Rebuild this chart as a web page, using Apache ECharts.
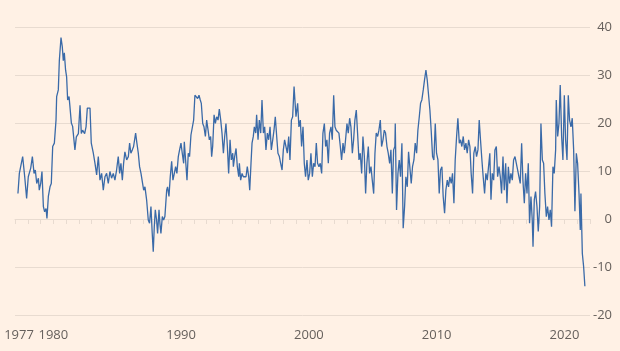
<!DOCTYPE html>
<html>
<head>
<meta charset="utf-8">
<script src="https://cdn.jsdelivr.net/npm/echarts@6/dist/echarts.min.js"></script>
<style>
  html, body { margin: 0; padding: 0; background: #fff1e5; }
  #chart { width: 620px; height: 351px; }
</style>
</head>
<body>
<div id="chart"></div>
<script>
// decimal years of each reading
const years = [
  1977.23, 1977.34, 1977.44, 1977.60, 1977.76, 1977.91, 1978.04, 1978.23, 1978.36, 1978.49,
  1978.59, 1978.70, 1978.83, 1978.90, 1979.01, 1979.11, 1979.22, 1979.32, 1979.43, 1979.50,
  1979.61, 1979.74, 1979.84, 1979.95, 1980.08, 1980.21, 1980.26, 1980.39, 1980.47, 1980.60,
  1980.70, 1980.78, 1980.86, 1980.96, 1981.04, 1981.12, 1981.23, 1981.30, 1981.41, 1981.51,
  1981.59, 1981.69, 1981.80, 1981.96, 1982.09, 1982.19, 1982.29, 1982.45, 1982.56, 1982.66,
  1982.76, 1982.87, 1982.97, 1983.13, 1983.26, 1983.39, 1983.52, 1983.65, 1983.78, 1983.91,
  1984.04, 1984.17, 1984.30, 1984.43, 1984.56, 1984.69, 1984.82, 1984.95, 1985.08, 1985.19,
  1985.29, 1985.40, 1985.50, 1985.60, 1985.74, 1985.87, 1985.97, 1986.07, 1986.18, 1986.28,
  1986.44, 1986.54, 1986.65, 1986.75, 1986.86, 1986.96, 1987.07, 1987.17, 1987.30, 1987.43,
  1987.53, 1987.64, 1987.74, 1987.82, 1987.90, 1987.98, 1988.08, 1988.16, 1988.27, 1988.34,
  1988.42, 1988.53, 1988.63, 1988.73, 1988.87, 1988.94, 1989.05, 1989.15, 1989.26, 1989.36,
  1989.47, 1989.57, 1989.67, 1989.78, 1989.88, 1989.99, 1990.09, 1990.20, 1990.25, 1990.35,
  1990.46, 1990.56, 1990.66, 1990.77, 1990.87, 1990.98, 1991.08, 1991.19, 1991.29, 1991.40,
  1991.50, 1991.58, 1991.69, 1991.79, 1991.90, 1992.00, 1992.11, 1992.21, 1992.31, 1992.39,
  1992.47, 1992.58, 1992.68, 1992.78, 1992.89, 1992.99, 1993.10, 1993.20, 1993.31, 1993.41,
  1993.51, 1993.62, 1993.72, 1993.83, 1993.93, 1994.04, 1994.09, 1994.19, 1994.30, 1994.40,
  1994.51, 1994.56, 1994.66, 1994.77, 1994.87, 1994.97, 1995.08, 1995.18, 1995.29, 1995.37,
  1995.47, 1995.55, 1995.65, 1995.73, 1995.84, 1995.91, 1996.02, 1996.12, 1996.23, 1996.33,
  1996.44, 1996.54, 1996.64, 1996.75, 1996.85, 1996.96, 1997.06, 1997.17, 1997.27, 1997.37,
  1997.48, 1997.58, 1997.69, 1997.79, 1997.90, 1998.00, 1998.10, 1998.21, 1998.31, 1998.42,
  1998.52, 1998.63, 1998.73, 1998.84, 1998.99, 1999.12, 1999.22, 1999.33, 1999.43, 1999.54,
  1999.64, 1999.74, 1999.85, 1999.95, 2000.06, 2000.16, 2000.27, 2000.37, 2000.48, 2000.58,
  2000.68, 2000.79, 2000.89, 2001.00, 2001.10, 2001.21, 2001.31, 2001.41, 2001.52, 2001.62,
  2001.73, 2001.83, 2001.94, 2002.04, 2002.14, 2002.25, 2002.35, 2002.46, 2002.56, 2002.67,
  2002.77, 2002.87, 2002.98, 2003.08, 2003.19, 2003.29, 2003.40, 2003.50, 2003.60, 2003.71,
  2003.81, 2003.92, 2004.02, 2004.13, 2004.23, 2004.34, 2004.44, 2004.54, 2004.65, 2004.75,
  2004.86, 2004.96, 2005.07, 2005.17, 2005.27, 2005.38, 2005.48, 2005.59, 2005.69, 2005.80,
  2005.90, 2006.00, 2006.11, 2006.21, 2006.32, 2006.42, 2006.53, 2006.63, 2006.73, 2006.76,
  2006.86, 2006.97, 2007.07, 2007.17, 2007.28, 2007.38, 2007.49, 2007.59, 2007.70, 2007.80,
  2007.90, 2008.01, 2008.11, 2008.22, 2008.32, 2008.43, 2008.53, 2008.64, 2008.74, 2008.84,
  2008.95, 2009.05, 2009.16, 2009.26, 2009.37, 2009.47, 2009.57, 2009.68, 2009.78, 2009.89,
  2009.99, 2010.10, 2010.20, 2010.30, 2010.41, 2010.51, 2010.62, 2010.72, 2010.83, 2010.93,
  2011.03, 2011.14, 2011.24, 2011.35, 2011.45, 2011.56, 2011.66, 2011.77, 2011.87, 2011.97,
  2012.08, 2012.18, 2012.29, 2012.39, 2012.50, 2012.60, 2012.70, 2012.81, 2012.91, 2013.02,
  2013.12, 2013.23, 2013.33, 2013.43, 2013.54, 2013.64, 2013.75, 2013.85, 2013.96, 2014.06,
  2014.16, 2014.25, 2014.35, 2014.46, 2014.56, 2014.67, 2014.77, 2014.88, 2014.98, 2015.08,
  2015.19, 2015.29, 2015.40, 2015.50, 2015.61, 2015.71, 2015.81, 2015.92, 2016.02, 2016.13,
  2016.23, 2016.34, 2016.44, 2016.54, 2016.65, 2016.75, 2016.86, 2016.96, 2017.07, 2017.17,
  2017.27, 2017.38, 2017.48, 2017.54, 2017.64, 2017.74, 2017.85, 2017.95, 2018.06, 2018.16,
  2018.27, 2018.37, 2018.47, 2018.58, 2018.68, 2018.79, 2018.89, 2018.99, 2019.10, 2019.20,
  2019.31, 2019.36, 2019.47, 2019.57, 2019.67, 2019.78, 2019.88, 2019.99, 2020.09, 2020.20,
  2020.30, 2020.40, 2020.51, 2020.61, 2020.72, 2020.82, 2020.93, 2021.03, 2021.14, 2021.24,
  2021.29, 2021.40, 2021.50, 2021.60
]

// % change
const values = [
  5.3, 9.5, 9.9, 13.0, 8.8, 4.3, 8.8, 10.6, 13.0, 9.5,
  10.2, 7.4, 8.5, 6.0, 7.4, 9.9, 2.6, 1.5, 2.2, 0.1,
  4.7, 6.7, 7.4, 15.1, 15.8, 20.6, 25.5, 26.9, 33.0, 37.8,
  35.9, 33.0, 34.6, 31.0, 29.6, 24.8, 25.5, 23.4, 20.0, 19.3,
  17.1, 14.4, 17.1, 17.8, 23.7, 17.8, 18.5, 17.8, 19.2, 23.1,
  22.7, 23.1, 15.8, 13.7, 11.6, 9.2, 13.0, 8.1, 9.5, 6.0,
  8.8, 9.5, 7.4, 9.9, 8.5, 9.5, 8.1, 10.2, 13.0, 9.5,
  11.6, 8.1, 11.6, 14.0, 12.3, 13.0, 15.8, 13.7, 14.4, 15.1,
  17.9, 15.8, 13.7, 10.9, 9.5, 9.9, 6.0, 6.7, 4.0, -0.2,
  -0.9, 2.6, -3.0, -6.8, -1.6, 1.9, -0.2, -3.0, 1.9, -0.9,
  -3.0, 0.5, -0.2, 0.5, 6.0, 6.7, 4.7, 8.8, 12.0, 8.1,
  9.5, 10.9, 9.5, 13.0, 14.4, 15.8, 13.7, 11.6, 16.1, 12.3,
  8.1, 13.7, 13.0, 17.5, 17.2, 20.6, 25.8, 25.8, 25.1, 25.8,
  24.8, 24.1, 19.9, 19.2, 17.2, 20.6, 18.5, 16.5, 17.2, 13.0,
  15.1, 21.7, 19.9, 21.3, 20.6, 22.9, 20.6, 17.9, 13.7, 17.2,
  19.9, 15.1, 9.5, 16.5, 12.3, 13.7, 10.9, 13.0, 14.7, 10.9,
  8.8, 11.6, 8.1, 9.5, 8.8, 8.8, 8.8, 10.9, 8.8, 6.0,
  11.6, 15.8, 17.2, 19.2, 17.9, 21.7, 16.5, 20.6, 17.9, 24.8,
  17.9, 19.2, 14.4, 17.9, 16.5, 19.2, 14.4, 16.5, 18.5, 21.3,
  17.2, 13.7, 13.0, 11.6, 10.2, 14.4, 16.5, 16.5, 13.7, 17.2,
  12.3, 20.6, 21.3, 27.6, 21.3, 24.1, 19.2, 20.6, 15.1, 19.2,
  11.6, 8.8, 12.3, 8.1, 9.5, 13.7, 8.8, 11.6, 10.9, 15.8,
  11.6, 10.9, 11.6, 9.5, 17.9, 19.9, 15.1, 16.5, 11.6, 17.9,
  19.2, 16.5, 25.8, 19.2, 18.5, 18.9, 17.9, 15.1, 12.3, 15.8,
  13.7, 16.5, 19.9, 17.9, 21.0, 19.2, 13.7, 16.5, 20.6, 22.7,
  17.9, 12.3, 13.7, 9.5, 17.2, 13.0, 5.3, 11.6, 15.1, 9.5,
  10.9, 8.1, 5.3, 13.7, 17.9, 17.2, 18.5, 20.6, 15.1, 16.5,
  18.5, 17.9, 15.1, 13.7, 11.6, 14.4, 5.3, 14.4, 15.1, 19.9,
  1.9, 9.5, 12.3, 8.8, 15.8, -1.9, 2.6, 8.8, 6.7, 14.0,
  13.7, 7.4, 10.9, 12.3, 15.8, 13.7, 18.5, 21.3, 24.1, 24.8,
  26.9, 29.0, 31.0, 29.0, 28.6, 22.7, 18.5, 13.0, 12.3, 19.9,
  13.7, 12.3, 5.3, 10.2, 10.9, 4.7, 1.2, 6.0, 8.1, 6.7,
  8.8, 7.4, 9.5, 3.3, 12.3, 17.2, 21.0, 15.8, 16.5, 15.1,
  17.2, 14.4, 15.8, 13.7, 16.5, 15.1, 9.5, 5.3, 13.7, 15.1,
  13.0, 14.4, 20.6, 16.5, 12.3, 8.8, 5.3, 9.5, 8.1, 10.9,
  13.7, 4.0, 9.5, 8.1, 14.4, 15.1, 8.8, 10.9, 8.8, 5.3,
  13.0, 6.0, 11.6, 3.3, 10.9, 7.4, 9.5, 8.1, 12.3, 13.0,
  13.0, 10.2, 8.8, 7.4, 15.8, 8.1, 3.3, 9.5, 5.3, 11.6,
  -0.9, 4.7, -0.2, -5.8, 4.0, 5.7, 2.6, -2.6, 2.6, 19.9,
  12.3, 11.6, 5.3, 0.5, 2.6, -0.2, 1.9, -1.6, 10.9, 9.5,
  14.4, 24.8, 17.2, 19.9, 27.9, 17.2, 12.3, 25.8, 16.5, 12.3,
  25.8, 20.6, 19.2, 21.0, 14.4, 1.6, 13.7, 11.6, 5.3, -2.3,
  5.3, -7.2, -9.9, -14.0
]

const yearLabels = [1977, 1980, 1990, 2000, 2010, 2020]

const textColor = '#66605c'
const gridColor = '#e8dbd0'
const font = 'Open Sans'

let chart

function drawChart () {
  chart = echarts.init(document.getElementById('chart'))
  const option = {
    backgroundColor: '#fff1e5',
    animation: false,
    textStyle: { fontFamily: font },
    grid: {
      left: 15,
      right: 30,
      top: 27,
      bottom: 36
    },
    xAxis: {
      type: 'value',
      min: 1977,
      max: 2022,
      interval: 1,
      axisLine: { show: true, lineStyle: { color: gridColor, width: 1 } },
      axisTick: { show: true, length: 5, lineStyle: { color: gridColor } },
      splitLine: { show: false },
      axisLabel: {
        margin: 14,
        color: textColor,
        fontSize: 13,
        fontFamily: font,
        // only the labelled years
        formatter: v => {
          if (!yearLabels.includes(v)) return ''
          return v === 1977 ? '{first|1977}' : String(v)
        },
        rich: {
          first: { padding: [0, 0, 0, 8], color: textColor, fontSize: 13, fontFamily: font }
        }
      }
    },
    yAxis: {
      type: 'value',
      position: 'right',
      min: -20,
      max: 40,
      interval: 10,
      axisLine: { show: false },
      axisTick: { show: false },
      splitLine: { lineStyle: { color: gridColor, width: 1 } },
      axisLabel: {
        align: 'right',
        margin: 22,
        color: textColor,
        fontSize: 13,
        fontFamily: font
      }
    },
    series: [
      {
        type: 'line',
        data: years.map((y, i) => [y, values[i]]),
        showSymbol: false,
        lineStyle: { color: '#3a6aa8', width: 1.3 }
      }
    ]
  }
  chart.setOption(option)
}

drawChart()
</script>
</body>
</html>
